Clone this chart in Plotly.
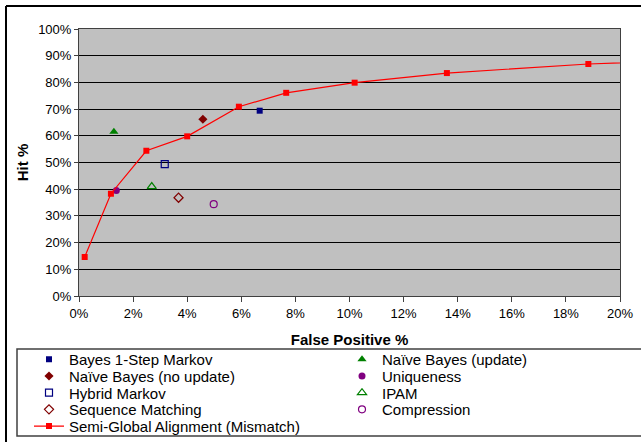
import plotly.graph_objects as go

# Semi-Global Alignment (Mismatch) curve
sga_fp = [0.21, 1.18, 2.49, 4.0, 5.91, 7.66, 10.19, 13.6, 18.83, 25.0]
sga_hit = [14.6, 38.3, 54.4, 59.8, 70.9, 76.1, 79.9, 83.5, 86.9, 89.2]

# Single-point methods
methods = ["Bayes 1-Step Markov", "Naïve Bayes (update)", "Naïve Bayes (no update)",
           "Uniqueness", "Hybrid Markov", "IPAM", "Sequence Matching", "Compression"]
method_fp = [6.68, 1.29, 4.58, 1.38, 3.17, 2.69, 3.68, 4.98]
method_hit = [69.4, 61.5, 66.2, 39.5, 49.4, 41.0, 36.8, 34.4]

x_ticks = [0, 2, 4, 6, 8, 10, 12, 14, 16, 18, 20]
y_ticks = [0, 10, 20, 30, 40, 50, 60, 70, 80, 90, 100]

styles = [
    dict(symbol="square", color="#000080", size=6),
    dict(symbol="triangle-up", color="#008000", size=8),
    dict(symbol="diamond", color="#800000", size=7),
    dict(symbol="circle", color="#800080", size=7),
    dict(symbol="square-open", color="#000080", size=7),
    dict(symbol="triangle-up-open", color="#008000", size=8),
    dict(symbol="diamond-open", color="#800000", size=7),
    dict(symbol="circle-open", color="#800080", size=7),
]

W, H = 641, 442
L, R, T, B = 79, 21, 29, 146
pw, ph = W - L - R, H - T - B

def px(x):
    return (x - L) / pw

def py(y):
    return (H - B - y) / ph

font = "Liberation Sans, Arial, sans-serif"

# legend slot positions (pixel): column box-left and row centre
col_x = [29, 342]
row_y = [359.5, 376.2, 392.9, 409.6, 426.3]

fig = go.Figure()
legends = {}
for i, (name, fx, hy, st) in enumerate(zip(methods, method_fp, method_hit, styles)):
    key = "legend" if i == 0 else f"legend{i + 1}"
    fig.add_trace(go.Scatter(
        x=[fx], y=[hy], mode="markers", name=name, legend=key,
        marker=dict(symbol=st["symbol"], color=st["color"], size=st["size"],
                    line=dict(color=st["color"], width=1.2 if "open" in st["symbol"] else 0)),
    ))
    legends[key] = (col_x[i % 2], row_y[i // 2])

fig.add_trace(go.Scatter(
    x=sga_fp, y=sga_hit, mode="lines+markers", name="Semi-Global Alignment (Mismatch)",
    legend="legend9",
    line=dict(color="#FF0000", width=1.2),
    marker=dict(symbol="square", color="#FF0000", size=6),
))
legends["legend9"] = (col_x[0], row_y[4])

layout_legends = {}
for key, (lx, ly) in legends.items():
    layout_legends[key] = dict(
        x=px(lx), y=py(ly), xanchor="left", yanchor="middle",
        font=dict(family=font, size=15, color="#000000"),
        bgcolor="rgba(0,0,0,0)", borderwidth=0,
        itemsizing="trace",
    )

fig.update_layout(
    width=W, height=H,
    margin=dict(l=L, r=R, t=T, b=B, autoexpand=False),
    paper_bgcolor="white",
    plot_bgcolor="#C0C0C0",
    font=dict(family=font, size=13, color="#000000"),
    showlegend=True,
    xaxis=dict(
        range=[0, 20], tickvals=x_ticks, ticktext=[f"{v}%" for v in x_ticks],
        showgrid=False, zeroline=False,
        showline=True, linecolor="#404040", linewidth=1, mirror=True,
        ticks="outside", ticklen=5, tickcolor="#404040",
        title=dict(text="<b>False Positive %</b>", font=dict(size=15), standoff=14),
        tickfont=dict(size=13, color="#000000"),
    ),
    yaxis=dict(
        range=[0, 100], tickvals=y_ticks, ticktext=[f"{v}%" for v in y_ticks],
        showgrid=True, gridcolor="#000000", gridwidth=1, zeroline=False,
        showline=True, linecolor="#404040", linewidth=1, mirror=True,
        ticks="outside", ticklen=4, tickcolor="#404040",
        title=dict(text="<b>Hit %</b>", font=dict(size=15), standoff=5),
        tickfont=dict(size=13, color="#000000"),
    ),
    shapes=[
        dict(type="line", xref="paper", yref="paper", x0=px(6), x1=px(641), y0=py(6), y1=py(6),
             line=dict(color="#000000", width=2)),
        dict(type="line", xref="paper", yref="paper", x0=px(6), x1=px(6), y0=py(6), y1=py(442),
             line=dict(color="#000000", width=2)),
        dict(type="rect", xref="paper", yref="paper", x0=px(17), x1=px(660), y0=py(349), y1=py(436),
             line=dict(color="#404040", width=1.5), fillcolor="rgba(0,0,0,0)"),
    ],
    **layout_legends,
)

fig.write_html(
    "out.html",
    config={"displayModeBar": False},
    post_script="document.body.style.margin='0px';document.body.style.overflow='hidden';",
)
